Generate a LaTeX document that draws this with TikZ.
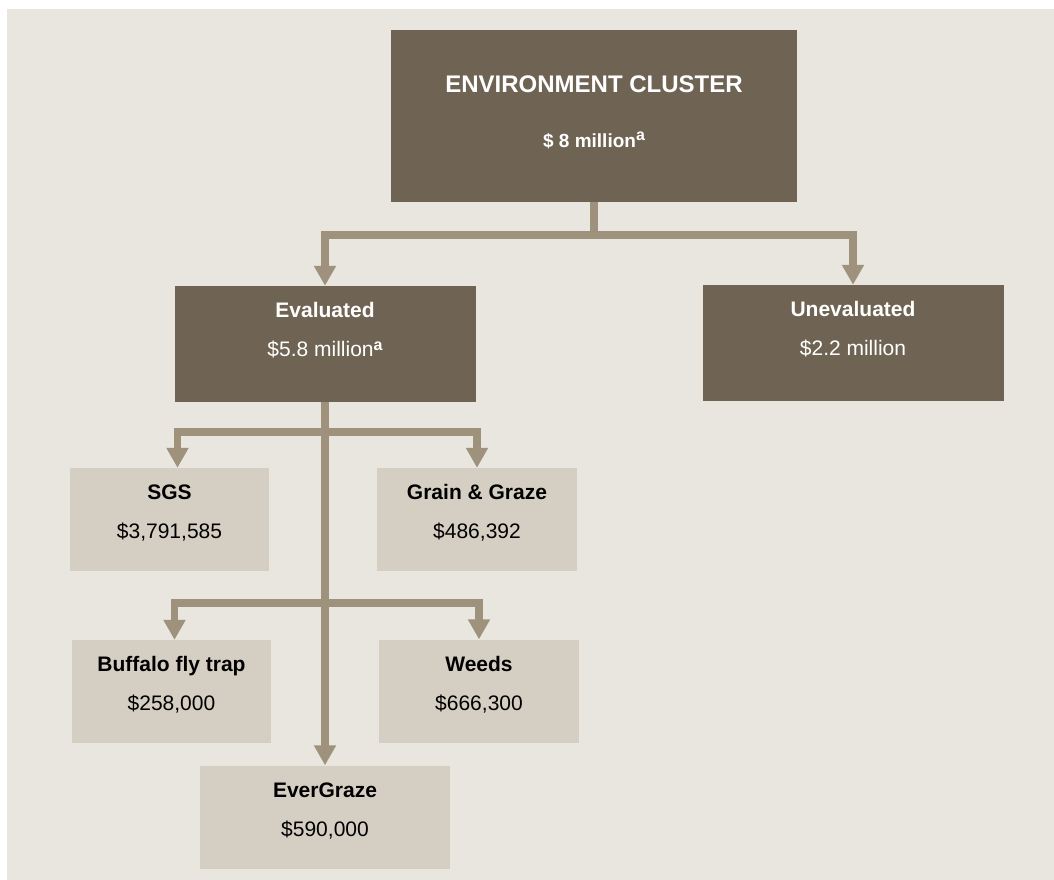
\documentclass[tikz,border=0pt]{standalone}
\usepackage{fontspec}
\setmainfont{Liberation Sans}
\usepackage{tikz}
\usetikzlibrary{arrows.meta}

\definecolor{clusterdark}{RGB}{111,100,83}
\definecolor{projectlight}{RGB}{213,206,195}
\definecolor{panelback}{RGB}{233,230,223}
\definecolor{linktan}{RGB}{158,146,124}

\newcommand{\notea}[2]{\raisebox{#2}{\fontsize{#1}{#1}\selectfont\bfseries a}}

\tikzset{
  darkbox/.style={fill=clusterdark, minimum width=301pt, minimum height=116pt, inner sep=0pt},
  lightbox/.style={fill=projectlight, minimum height=103pt, inner sep=0pt},
  head/.style={anchor=base, inner sep=0pt, font=\fontsize{21}{25}\selectfont\bfseries},
  amount/.style={anchor=base, inner sep=0pt, font=\fontsize{21}{25}\selectfont},
  link/.style={draw=linktan, line width=7.5pt, line join=miter},
  linkarrow/.style={link, -{Triangle[width=21pt,length=20pt]}}
}

\begin{document}
\begin{tikzpicture}[x=1pt,y=-1pt]
\fill[white] (0,0) rectangle (1054,880);
\fill[panelback] (7,9) rectangle (1054,880);

% cluster and its two halves
\node[darkbox, minimum width=406pt, minimum height=172pt] (cluster) at (594,116) {};
\node[head, text=white, font=\fontsize{24}{28}\selectfont\bfseries] (cluster-t) at ([yshift=-63pt]cluster.north) {ENVIRONMENT CLUSTER};
\node[amount, text=white, font=\fontsize{19}{23}\selectfont\bfseries] (cluster-v) at ([yshift=-118pt]cluster.north) {\$ 8 million\notea{16}{7pt}};

\node[darkbox] (evaluated) at (325,344) {};
\node[head, text=white] (evaluated-t) at ([yshift=-32pt]evaluated.north) {Evaluated};
\node[amount, text=white] (evaluated-v) at ([yshift=-71pt]evaluated.north) {\$5.8 million\notea{16}{6pt}};

\node[darkbox] (unevaluated) at (853,343) {};
\node[head, text=white] (unevaluated-t) at ([yshift=-32pt]unevaluated.north) {Unevaluated};
\node[amount, text=white] (unevaluated-v) at ([yshift=-71pt]unevaluated.north) {\$2.2 million};

% evaluated projects
\foreach \n/\x/\y/\w/\t/\v in {sgs/169.5/519.5/199/SGS/{\$3,791,585},
    grain/477/519.5/200/{Grain \& Graze}/{\$486,392},
    buffalo/171.5/691.5/199/{Buffalo fly trap}/{\$258,000},
    weeds/479/691/200/Weeds/{\$666,300},
    evergraze/325/817/250/EverGraze/{\$590,000}}{
  \node[lightbox, minimum width=\w pt] (\n) at (\x,\y) {};
  \node[head] (\n-t) at ([yshift=-32pt]\n.north) {\t};
  \node[amount] (\n-v) at ([yshift=-71pt]\n.north) {\v};
}

% connectors
\coordinate (split) at (594,235);
\draw[link] (cluster.south) -- (split);
\draw[linkarrow] (split) -| (evaluated.north);
\draw[linkarrow] (split) -| (unevaluated.north);

\coordinate (row1) at (325,432);
\coordinate (row2) at (325,603);
\draw[linkarrow] (evaluated.south) -- (evergraze.north);
\draw[linkarrow] (row1) -| ([xshift=8pt]sgs.north);
\draw[linkarrow] (row1) -| (grain.north);
\draw[linkarrow] (row2) -| ([xshift=3pt]buffalo.north);
\draw[linkarrow] (row2) -| (weeds.north);
\end{tikzpicture}
\end{document}
